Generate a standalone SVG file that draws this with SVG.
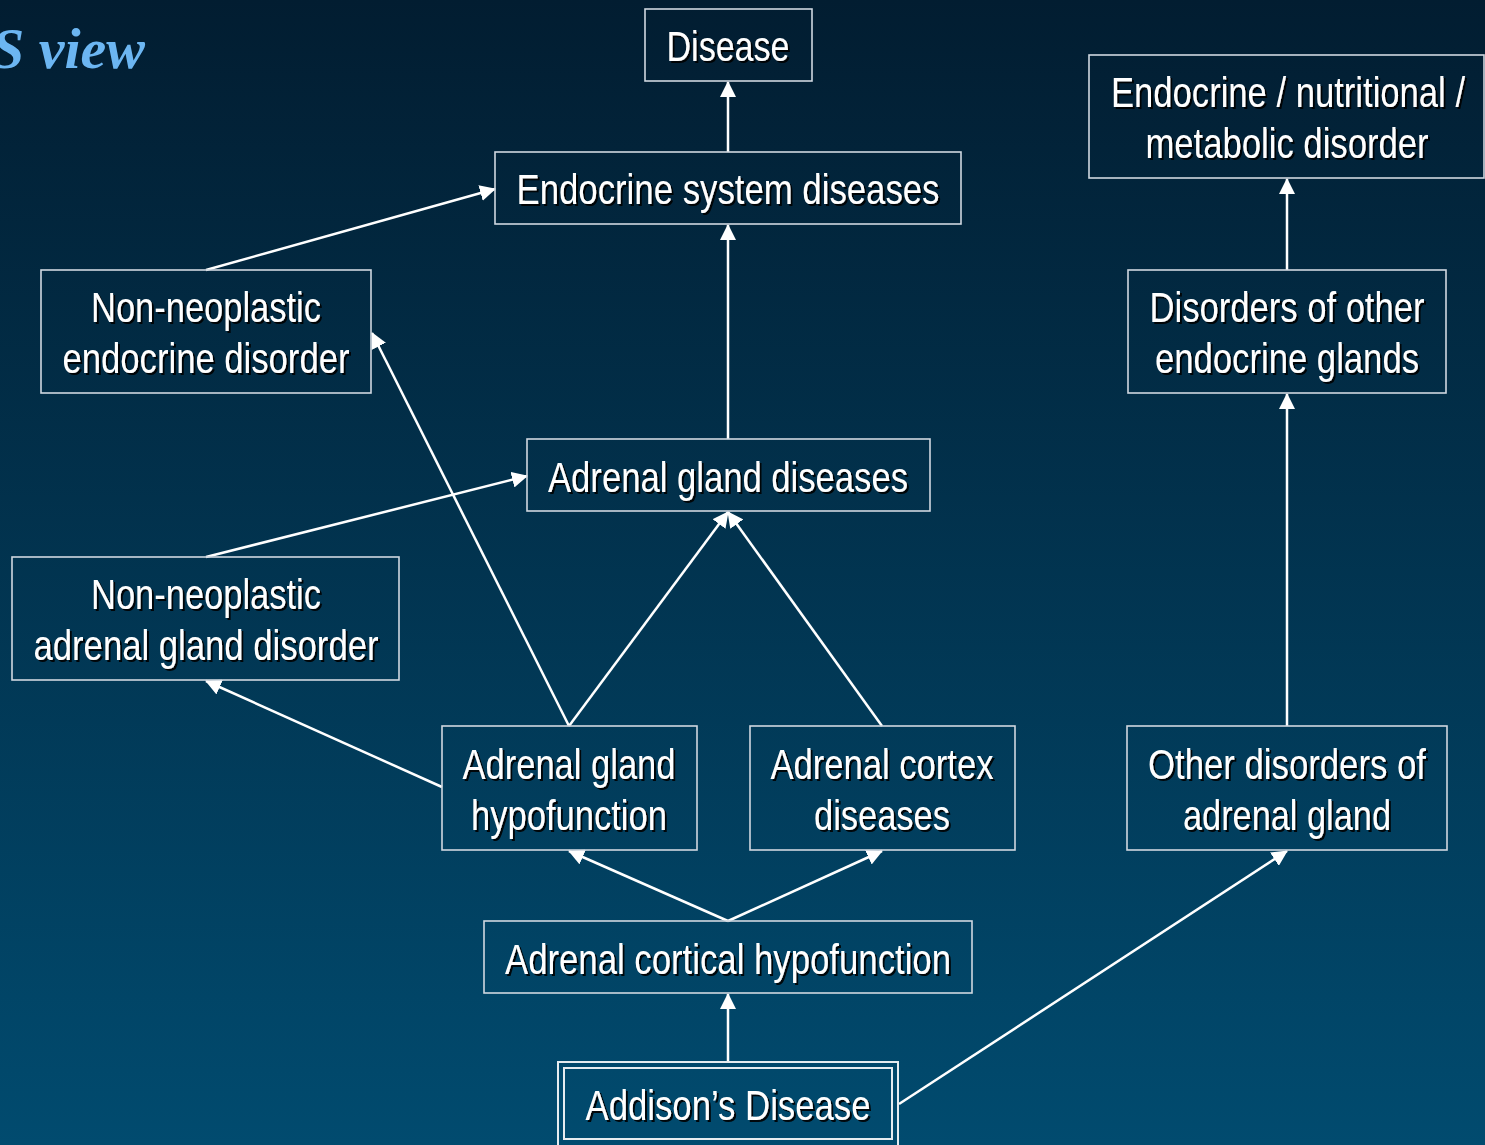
<svg xmlns="http://www.w3.org/2000/svg" width="1485" height="1145" viewBox="0 0 1485 1145">
<defs>
<linearGradient id="bg" x1="0" y1="0" x2="0" y2="1">
<stop offset="0" stop-color="#021d31"/>
<stop offset="1" stop-color="#014b6f"/>
</linearGradient>
<filter id="sh" x="-5%" y="-5%" width="110%" height="120%">
<feDropShadow dx="2" dy="2" stdDeviation="0" flood-color="#000" flood-opacity="0.9"/>
</filter>
<marker id="ah" markerUnits="userSpaceOnUse" markerWidth="16" markerHeight="16" refX="15" refY="8" orient="auto" viewBox="0 0 16 16">
<path d="M0,0 L16,8 L0,16 z" fill="#fff"/>
</marker>
<style>
.box{fill:none;stroke:#d0d8e0;stroke-width:1.6}
.dbl{fill:none;stroke:#e6ecf0;stroke-width:2}
.t{font-family:"Liberation Sans",Arial,sans-serif;font-size:43px;fill:#fff;text-anchor:middle;filter:url(#sh)}
.c{stroke:#fff;stroke-width:2.5;fill:none;marker-end:url(#ah)}
.title{font-family:"Liberation Serif","DejaVu Serif",serif;font-style:italic;font-weight:bold;font-size:58px;fill:#6cb6f2}
</style>
</defs>
<rect width="1485" height="1145" fill="url(#bg)"/>
<text class="title" x="-8" y="68">S view</text>
<g id="connectors">
<line class="c" x1="728" y1="152" x2="728" y2="82"/>
<line class="c" x1="206" y1="270" x2="495" y2="189"/>
<line class="c" x1="728" y1="439" x2="728" y2="225"/>
<line class="c" x1="206" y1="557" x2="527" y2="476"/>
<line class="c" x1="569" y1="726" x2="372" y2="333"/>
<line class="c" x1="569" y1="726" x2="728" y2="512"/>
<line class="c" x1="882" y1="726" x2="728" y2="512"/>
<line class="c" x1="442" y1="787" x2="206" y2="681"/>
<line class="c" x1="728" y1="921" x2="569" y2="851"/>
<line class="c" x1="728" y1="921" x2="882" y2="851"/>
<line class="c" x1="728" y1="1061" x2="728" y2="994"/>
<line class="c" x1="899" y1="1104" x2="1287" y2="851"/>
<line class="c" x1="1287" y1="726" x2="1287" y2="394"/>
<line class="c" x1="1287" y1="270" x2="1287" y2="179"/>
</g>
<g id="disease"><rect class="box" x="645" y="9" width="167" height="72"/><text class="t" x="728" y="61" textLength="123" lengthAdjust="spacingAndGlyphs">Disease</text></g>
<g id="endocrine-system"><rect class="box" x="495" y="152" width="466" height="72"/><text class="t" x="728" y="204" textLength="423" lengthAdjust="spacingAndGlyphs">Endocrine system diseases</text></g>
<g id="non-neoplastic-endocrine"><rect class="box" x="41" y="270" width="330" height="123"/><text class="t" x="206" y="322" textLength="230" lengthAdjust="spacingAndGlyphs">Non-neoplastic</text><text class="t" x="206" y="373" textLength="287" lengthAdjust="spacingAndGlyphs">endocrine disorder</text></g>
<g id="endocrine-nutritional"><rect class="box" x="1089" y="55" width="395" height="123"/><text class="t" x="1288" y="107" textLength="354" lengthAdjust="spacingAndGlyphs">Endocrine / nutritional /</text><text class="t" x="1287" y="158" textLength="283" lengthAdjust="spacingAndGlyphs">metabolic disorder</text></g>
<g id="disorders-other"><rect class="box" x="1128" y="270" width="318" height="123"/><text class="t" x="1287" y="322" textLength="275" lengthAdjust="spacingAndGlyphs">Disorders of other</text><text class="t" x="1287" y="373" textLength="264" lengthAdjust="spacingAndGlyphs">endocrine glands</text></g>
<g id="adrenal-gland-diseases"><rect class="box" x="527" y="439" width="403" height="72"/><text class="t" x="728" y="492" textLength="360" lengthAdjust="spacingAndGlyphs">Adrenal gland diseases</text></g>
<g id="non-neoplastic-adrenal"><rect class="box" x="12" y="557" width="387" height="123"/><text class="t" x="206" y="609" textLength="230" lengthAdjust="spacingAndGlyphs">Non-neoplastic</text><text class="t" x="206" y="660" textLength="345" lengthAdjust="spacingAndGlyphs">adrenal gland disorder</text></g>
<g id="adrenal-hypofunction"><rect class="box" x="442" y="726" width="255" height="124"/><text class="t" x="569" y="779" textLength="213" lengthAdjust="spacingAndGlyphs">Adrenal gland</text><text class="t" x="569" y="830" textLength="196" lengthAdjust="spacingAndGlyphs">hypofunction</text></g>
<g id="adrenal-cortex"><rect class="box" x="750" y="726" width="265" height="124"/><text class="t" x="882" y="779" textLength="223" lengthAdjust="spacingAndGlyphs">Adrenal cortex</text><text class="t" x="882" y="830" textLength="136" lengthAdjust="spacingAndGlyphs">diseases</text></g>
<g id="other-adrenal"><rect class="box" x="1127" y="726" width="320" height="124"/><text class="t" x="1287" y="779" textLength="278" lengthAdjust="spacingAndGlyphs">Other disorders of</text><text class="t" x="1287" y="830" textLength="208" lengthAdjust="spacingAndGlyphs">adrenal gland</text></g>
<g id="cortical-hypofunction"><rect class="box" x="484" y="921" width="488" height="72"/><text class="t" x="728" y="974" textLength="446" lengthAdjust="spacingAndGlyphs">Adrenal cortical hypofunction</text></g>
<g id="addisons"><rect class="dbl" x="558" y="1062" width="340" height="90"/><rect class="dbl" x="564" y="1068" width="328" height="71"/><text class="t" x="728" y="1120" textLength="285" lengthAdjust="spacingAndGlyphs">Addison’s Disease</text></g>
</svg>
